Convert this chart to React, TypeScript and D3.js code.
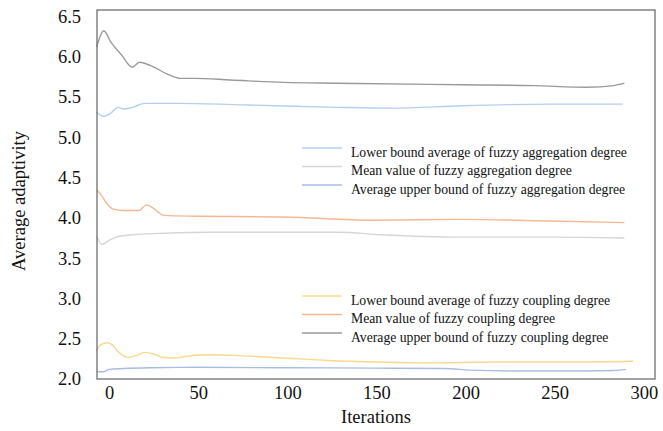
import React, {useEffect, useRef} from "react";
import * as d3 from "d3";

// iterations (x) and average adaptivity (y)
const upperCouplingX = [-5, -1, 3, 9, 15, 19, 25, 35, 42, 50, 70, 100, 130, 200, 240, 270, 285, 291];
const upperCouplingY = [6.12, 6.32, 6.18, 6.02, 5.87, 5.93, 5.89, 5.78, 5.73, 5.73, 5.71, 5.68, 5.67, 5.65, 5.64, 5.62, 5.64, 5.67];

const lowerAggX = [-5, -1, 3, 7, 10, 15, 22, 42, 80, 130, 160, 200, 250, 290];
const lowerAggY = [5.31, 5.26, 5.30, 5.37, 5.35, 5.37, 5.42, 5.42, 5.40, 5.37, 5.36, 5.39, 5.41, 5.41];

const meanCouplingX = [-5, -3, 0, 4, 10, 19, 21, 23, 26, 33, 50, 100, 150, 200, 250, 291];
const meanCouplingY = [4.34, 4.30, 4.20, 4.11, 4.09, 4.09, 4.13, 4.16, 4.13, 4.03, 4.02, 4.01, 3.97, 3.98, 3.96, 3.94];

const meanAggX = [-5, -2, 2, 6, 15, 23, 57, 131, 154, 199, 250, 291];
const meanAggY = [3.77, 3.67, 3.72, 3.76, 3.79, 3.80, 3.82, 3.82, 3.79, 3.76, 3.76, 3.75];

const lowerCouplingX = [-5, -3, 1, 4, 7, 12, 17, 22, 27, 32, 38, 45, 57, 75, 100, 125, 154, 180, 220, 260, 296];
const lowerCouplingY = [2.35, 2.42, 2.45, 2.42, 2.34, 2.27, 2.29, 2.33, 2.31, 2.27, 2.26, 2.28, 2.30, 2.29, 2.26, 2.23, 2.21, 2.20, 2.21, 2.21, 2.22];

const upperAggX = [-5, -1, 0, 2, 10, 25, 50, 100, 150, 190, 205, 230, 270, 285, 292];
const upperAggY = [2.09, 2.09, 2.10, 2.12, 2.13, 2.14, 2.145, 2.14, 2.135, 2.13, 2.11, 2.10, 2.10, 2.105, 2.12];

const yTicks = [2.0, 2.5, 3.0, 3.5, 4.0, 4.5, 5.0, 5.5, 6.0, 6.5];
const xTicks = [0, 50, 100, 150, 200, 250, 300];

const aggLegend = [
    "Lower bound average of fuzzy aggregation degree",
    "Mean value of fuzzy aggregation degree",
    "Average upper bound of fuzzy aggregation degree",
];
const couplingLegend = [
    "Lower bound average of fuzzy coupling degree",
    "Mean value of fuzzy coupling degree",
    "Average upper bound of fuzzy coupling degree",
];

const aggColors = ["#b4d0ee", "#d6d6d6", "#a7bde4"];
const couplingColors = ["#fcd88c", "#f5b793", "#9a9a9a"];

export default function App() {
    const ref = useRef<SVGSVGElement>(null);

    useEffect(() => {
        document.body.style.margin = "0";
        const width = 663, height = 431;
        const margin = {left: 97, right: 8, top: 10, bottom: 52};
        const font = "'Liberation Serif', 'Times New Roman', serif";

        const x = d3.scaleLinear().domain([-4.8, 308.2]).range([margin.left, width - margin.right]);
        const y = d3.scaleLinear().domain([2, 6.578]).range([height - margin.bottom, margin.top]);

        const svg = d3.select(ref.current);
        svg.selectAll("*").remove();

        const line = d3.line<[number, number]>()
            .x(d => x(d[0]))
            .y(d => y(d[1]))
            .curve(d3.curveMonotoneX);

        const series: [number[], number[], string][] = [
            [upperCouplingX, upperCouplingY, couplingColors[2]],
            [lowerAggX, lowerAggY, aggColors[0]],
            [meanCouplingX, meanCouplingY, couplingColors[1]],
            [meanAggX, meanAggY, aggColors[1]],
            [lowerCouplingX, lowerCouplingY, couplingColors[0]],
            [upperAggX, upperAggY, aggColors[2]],
        ];

        series.forEach(([xs, ys, color]) => {
            const pts = xs.map((v, i) => [v, ys[i]] as [number, number]);
            svg.append("path")
                .attr("d", line(pts))
                .attr("fill", "none")
                .attr("stroke", color)
                .attr("stroke-width", 1.4);
        });

        // frame
        svg.append("rect")
            .attr("x", margin.left)
            .attr("y", margin.top)
            .attr("width", width - margin.left - margin.right)
            .attr("height", height - margin.top - margin.bottom)
            .attr("fill", "none")
            .attr("stroke", "#6f6f6f")
            .attr("stroke-width", 1.3);

        svg.append("g")
            .selectAll("text")
            .data(yTicks)
            .enter()
            .append("text")
            .attr("x", 81)
            .attr("y", d => y(d))
            .attr("dy", "0.35em")
            .attr("text-anchor", "end")
            .attr("font-family", font)
            .attr("font-size", 18.5)
            .attr("fill", "#111")
            .text(d => d.toFixed(1));

        svg.append("g")
            .selectAll("text")
            .data(xTicks)
            .enter()
            .append("text")
            .attr("x", d => x(d) + 4)
            .attr("y", 399)
            .attr("text-anchor", "middle")
            .attr("font-family", font)
            .attr("font-size", 18.5)
            .attr("fill", "#111")
            .text(d => d);

        svg.append("text")
            .attr("x", 376)
            .attr("y", 423)
            .attr("text-anchor", "middle")
            .attr("font-family", font)
            .attr("font-size", 18.5)
            .attr("fill", "#111")
            .text("Iterations");

        svg.append("text")
            .attr("transform", "rotate(-90)")
            .attr("x", -201)
            .attr("y", 25)
            .attr("text-anchor", "middle")
            .attr("font-family", font)
            .attr("font-size", 18.5)
            .attr("fill", "#111")
            .text("Average adaptivity");

        const legend = (labels: string[], colors: string[], top: number) => {
            const g = svg.append("g").attr("transform", `translate(0,${top})`);
            labels.forEach((label, i) => {
                g.append("line")
                    .attr("x1", 302).attr("x2", 342)
                    .attr("y1", i * 18.5 - 4).attr("y2", i * 18.5 - 4)
                    .attr("stroke", colors[i])
                    .attr("stroke-width", 1.4);
                g.append("text")
                    .attr("x", 351)
                    .attr("y", i * 18.5)
                    .attr("dy", "0.35em")
                    .attr("font-family", font)
                    .attr("font-size", 13.7)
                    .attr("fill", "#111")
                    .text(label);
            });
        };
        legend(aggLegend, aggColors, 152);
        legend(couplingLegend, couplingColors, 300);
    }, []);

    return <svg ref={ref} width={663} height={431} style={{display: "block", background: "#fff"}}/>;
}
